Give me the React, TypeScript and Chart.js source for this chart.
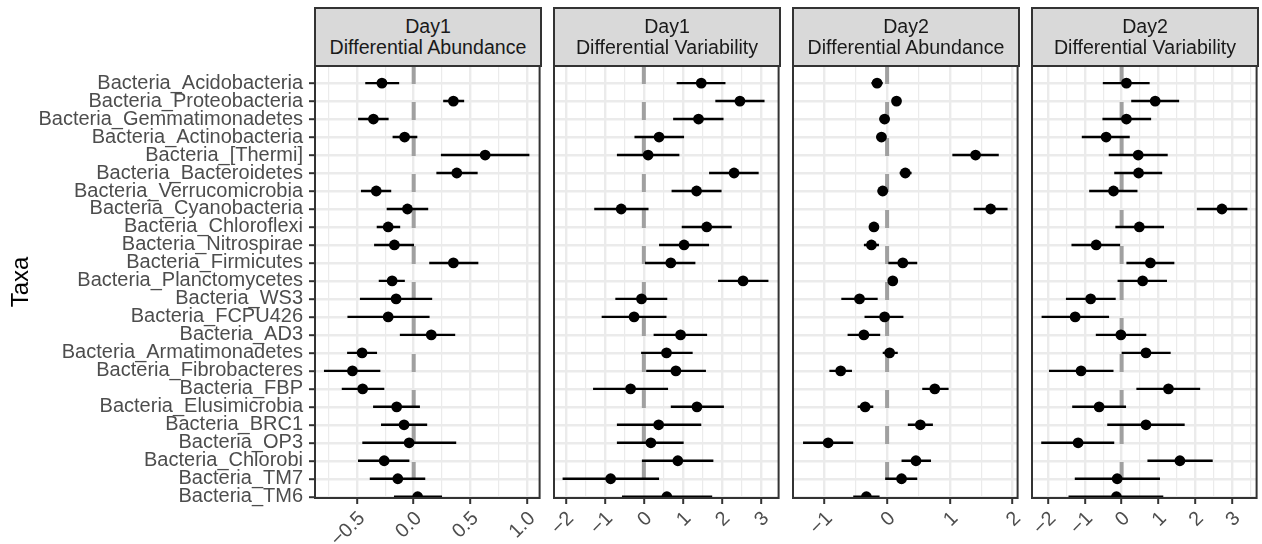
import React, { useEffect, useRef } from 'react';
import { Chart, registerables } from 'chart.js';

Chart.register(...registerables);

// ---------- data ----------
const taxa = [
  'Bacteria_Acidobacteria', 'Bacteria_Proteobacteria', 'Bacteria_Gemmatimonadetes', 'Bacteria_Actinobacteria',
  'Bacteria_[Thermi]', 'Bacteria_Bacteroidetes', 'Bacteria_Verrucomicrobia', 'Bacteria_Cyanobacteria',
  'Bacteria_Chloroflexi', 'Bacteria_Nitrospirae', 'Bacteria_Firmicutes', 'Bacteria_Planctomycetes',
  'Bacteria_WS3', 'Bacteria_FCPU426', 'Bacteria_AD3', 'Bacteria_Armatimonadetes',
  'Bacteria_Fibrobacteres', 'Bacteria_FBP', 'Bacteria_Elusimicrobia', 'Bacteria_BRC1',
  'Bacteria_OP3', 'Bacteria_Chlorobi', 'Bacteria_TM7', 'Bacteria_TM6',
];

const panelTitles = [
  ['Day1', 'Differential Abundance'],
  ['Day1', 'Differential Variability'],
  ['Day2', 'Differential Abundance'],
  ['Day2', 'Differential Variability'],
];

// Day1 Differential Abundance
const d1AbEst = [-0.28, 0.35, -0.355, -0.08, 0.63, 0.38, -0.33, -0.055, -0.225, -0.17, 0.35, -0.19, -0.155, -0.225, 0.155, -0.455, -0.54, -0.45, -0.15, -0.085, -0.04, -0.26, -0.14, 0.035];
const d1AbLo = [-0.427, 0.26, -0.49, -0.186, 0.24, 0.2, -0.465, -0.238, -0.326, -0.349, 0.137, -0.308, -0.474, -0.584, -0.122, -0.587, -0.791, -0.634, -0.358, -0.288, -0.453, -0.491, -0.387, -0.174];
const d1AbHi = [-0.128, 0.445, -0.221, 0.032, 1.02, 0.564, -0.198, 0.128, -0.119, 0.003, 0.57, -0.078, 0.163, 0.14, 0.366, -0.323, -0.294, -0.259, 0.055, 0.119, 0.375, -0.038, 0.102, 0.25];

// Day1 Differential Variability
const d1VarEst = [1.47, 2.46, 1.4, 0.39, 0.11, 2.31, 1.35, -0.58, 1.61, 1.03, 0.69, 2.54, -0.06, -0.25, 0.94, 0.58, 0.82, -0.34, 1.36, 0.38, 0.18, 0.87, -0.85, 0.59];
const d1VarLo = [0.84, 1.83, 0.75, -0.24, -0.69, 1.67, 0.71, -1.27, 0.97, 0.39, 0.03, 1.9, -0.73, -1.08, 0.25, -0.07, 0.06, -1.3, 0.69, -0.69, -0.69, -0.05, -2.08, -0.56];
const d1VarHi = [2.09, 3.09, 2.04, 1.03, 0.91, 2.94, 1.99, 0.12, 2.25, 1.67, 1.32, 3.19, 0.6, 0.58, 1.62, 1.25, 1.59, 0.62, 2.05, 1.47, 1.02, 1.78, 0.39, 1.75];

// Day2 Differential Abundance
const d2AbEst = [-0.16, 0.15, -0.04, -0.09, 1.41, 0.29, -0.07, 1.65, -0.21, -0.25, 0.25, 0.09, -0.44, -0.04, -0.37, 0.04, -0.74, 0.76, -0.35, 0.53, -0.94, 0.46, 0.23, -0.33];
const d2AbLo = [-0.25, 0.09, -0.12, -0.17, 1.04, 0.2, -0.15, 1.38, -0.28, -0.37, 0.02, 0.03, -0.73, -0.36, -0.63, -0.07, -0.92, 0.56, -0.47, 0.33, -1.34, 0.23, -0.03, -0.54];
const d2AbHi = [-0.07, 0.22, 0.03, -0.02, 1.78, 0.39, 0.005, 1.92, -0.14, -0.13, 0.48, 0.16, -0.15, 0.26, -0.11, 0.17, -0.56, 0.98, -0.22, 0.73, -0.54, 0.7, 0.48, -0.12];

// Day2 Differential Variability
const d2VarEst = [0.13, 0.91, 0.13, -0.42, 0.45, 0.46, -0.22, 2.72, 0.48, -0.69, 0.78, 0.57, -0.84, -1.26, -0.02, 0.66, -1.1, 1.27, -0.61, 0.66, -1.18, 1.58, -0.12, -0.14];
const d2VarLo = [-0.51, 0.26, -0.52, -1.08, -0.35, -0.2, -0.88, 2.04, -0.17, -1.36, 0.13, -0.11, -1.51, -2.17, -0.7, 0.0, -1.97, 0.4, -1.34, -0.39, -2.18, 0.7, -1.27, -1.44];
const d2VarHi = [0.76, 1.56, 0.8, 0.22, 1.25, 1.1, 0.43, 3.41, 1.15, -0.04, 1.43, 1.23, -0.16, -0.34, 0.67, 1.33, -0.22, 2.13, 0.12, 1.71, -0.2, 2.47, 1.04, 1.13];

// tick values / labels
const p1Major = [-0.5, 0, 0.5, 1.0];
const p1Labels = ['\u22120.5', '0.0', '0.5', '1.0'];
const p1Minor = [-0.75, -0.25, 0.25, 0.75];
const p2Major = [-2, -1, 0, 1, 2, 3];
const p2Labels = ['\u22122', '\u22121', '0', '1', '2', '3'];
const p2Minor = [-1.5, -0.5, 0.5, 1.5, 2.5];
const p3Major = [-1, 0, 1, 2];
const p3Labels = ['\u22121', '0', '1', '2'];
const p3Minor = [-0.5, 0.5, 1.5];
const p4Major = [-2, -1, 0, 1, 2, 3];
const p4Labels = ['\u22122', '\u22121', '0', '1', '2', '3'];
const p4Minor = [-1.5, -0.5, 0.5, 1.5, 2.5, 3.5];

// axis limits
const xLimits = [
  [-0.87, 1.11],
  [-2.30, 3.45],
  [-1.50, 2.08],
  [-2.43, 3.66],
];
const yLimits = [-0.95, 23.07];
const zeroLine = 0;

const panels = [
  { est: d1AbEst, lo: d1AbLo, hi: d1AbHi, major: p1Major, labels: p1Labels, minor: p1Minor },
  { est: d1VarEst, lo: d1VarLo, hi: d1VarHi, major: p2Major, labels: p2Labels, minor: p2Minor },
  { est: d2AbEst, lo: d2AbLo, hi: d2AbHi, major: p3Major, labels: p3Labels, minor: p3Minor },
  { est: d2VarEst, lo: d2VarLo, hi: d2VarHi, major: p4Major, labels: p4Labels, minor: p4Minor },
];

// ---------- layout ----------
const FONT = "'Liberation Sans', Arial, Helvetica, sans-serif";
const PANEL_LEFT = [315, 554, 793, 1032];
const PANEL_W = 226;
const PANEL_TOP = 66;
const PANEL_BOTTOM = 498;
const CANVAS_TOP = 56;
const CANVAS_H = 544 - CANVAS_TOP;

const borderPlugin = {
  id: 'panelBorder',
  afterDraw(chart: any) {
    const { ctx, chartArea: a } = chart;
    ctx.save();
    ctx.strokeStyle = '#333333';
    ctx.lineWidth = 2;
    ctx.strokeRect(a.left, a.top, a.right - a.left, a.bottom - a.top);
    ctx.restore();
  },
};

const isIn = (arr: number[], v: number) => arr.some((m) => Math.abs(m - v) < 1e-9);

function Panel({ k }: { k: number }) {
  const ref = useRef<HTMLCanvasElement | null>(null);
  const canvasLeft = k === 0 ? 0 : PANEL_LEFT[k] - 26;
  const canvasW = PANEL_LEFT[k] + PANEL_W + 4 - canvasLeft;
  const yAxisW = PANEL_LEFT[k] - canvasLeft;

  useEffect(() => {
    const p = panels[k];
    const datasets: any[] = [];
    datasets.push({
      type: 'scatter',
      data: p.est.map((v, i) => ({ x: v, y: i })),
      pointRadius: 5.4,
      pointHoverRadius: 5.4,
      pointBackgroundColor: '#000000',
      pointBorderWidth: 0,
      order: 0,
    });
    p.lo.forEach((lo, i) => {
      datasets.push({
        type: 'line',
        data: [{ x: lo, y: i }, { x: p.hi[i], y: i }],
        borderColor: '#000000',
        borderWidth: 2.4,
        pointRadius: 0,
        pointHoverRadius: 0,
        order: 1,
      });
    });
    datasets.push({
      type: 'line',
      data: [{ x: zeroLine, y: yLimits[0] }, { x: zeroLine, y: yLimits[1] }],
      borderColor: '#A0A0A0',
      borderWidth: 4,
      borderDash: [18, 18],
      borderCapStyle: 'butt',
      pointRadius: 0,
      pointHoverRadius: 0,
      order: 2,
    });

    const allTicks = [...p.major, ...p.minor].sort((a, b) => a - b);

    const chart = new Chart(ref.current as HTMLCanvasElement, {
      type: 'scatter',
      data: { datasets },
      plugins: [borderPlugin],
      options: {
        animation: false,
        responsive: false,
        events: [],
        layout: { padding: { top: PANEL_TOP - CANVAS_TOP, right: canvasW - (PANEL_LEFT[k] + PANEL_W - canvasLeft), left: 0, bottom: 0 } },
        plugins: { legend: { display: false }, tooltip: { enabled: false }, title: { display: false } },
        scales: {
          x: {
            type: 'linear',
            position: 'bottom',
            min: xLimits[k][0],
            max: xLimits[k][1],
            afterBuildTicks: (s: any) => { s.ticks = allTicks.map((v) => ({ value: v })); },
            afterFit: (s: any) => { s.height = CANVAS_H - (PANEL_BOTTOM - CANVAS_TOP); s.paddingLeft = 0; s.paddingRight = 0; },
            ticks: {
              autoSkip: false,
              minRotation: 45,
              maxRotation: 45,
              color: '#4D4D4D',
              font: { family: FONT, size: 19.8 },
              padding: 3,
              labelOffset: 5,
              callback: (v: any) => {
                const idx = p.major.findIndex((m) => Math.abs(m - Number(v)) < 1e-9);
                return idx >= 0 ? p.labels[idx] : '';
              },
            },
            grid: {
              color: '#EBEBEB',
              lineWidth: (c: any) => (c.tick && isIn(p.major, c.tick.value) ? 2.4 : 1.2),
              tickColor: (c: any) => (c.tick && isIn(p.major, c.tick.value) ? '#333333' : 'rgba(0,0,0,0)'),
              tickLength: 6,
              tickWidth: 2,
              drawTicks: true,
            },
            border: { display: false },
          } as any,
          y: {
            type: 'linear',
            reverse: true,
            min: yLimits[0],
            max: yLimits[1],
            afterBuildTicks: (s: any) => { s.ticks = taxa.map((_, i) => ({ value: i })); },
            afterFit: (s: any) => { s.width = yAxisW; s.paddingTop = 0; s.paddingBottom = 0; },
            ticks: {
              display: k === 0,
              autoSkip: false,
              color: '#4D4D4D',
              font: { family: FONT, size: 20 },
              padding: 6,
              callback: (v: any) => taxa[Number(v)] ?? '',
            },
            grid: {
              color: '#EBEBEB',
              lineWidth: 2.4,
              tickColor: '#333333',
              tickLength: 6,
              tickWidth: 2,
              drawTicks: k === 0,
            },
            border: { display: false },
            title: k === 0
              ? { display: true, text: 'Taxa', color: '#000000', font: { family: FONT, size: 24 }, padding: { top: 7, bottom: 0 } }
              : { display: false },
          } as any,
        },
      } as any,
    });
    return () => chart.destroy();
  }, [k]);

  return (
    <canvas
      ref={ref}
      width={canvasW}
      height={CANVAS_H}
      style={{ position: 'absolute', left: canvasLeft, top: CANVAS_TOP, width: canvasW, height: CANVAS_H }}
    />
  );
}

function Strip({ k }: { k: number }) {
  return (
    <div
      style={{
        position: 'absolute',
        left: PANEL_LEFT[k] - 1,
        top: 7,
        width: PANEL_W + 2,
        height: PANEL_TOP + 1 - 7,
        boxSizing: 'border-box',
        border: '2px solid #333333',
        background: '#D9D9D9',
        display: 'flex',
        flexDirection: 'column',
        justifyContent: 'center',
        alignItems: 'center',
        fontFamily: FONT,
        fontSize: '19.6px',
        lineHeight: '21.5px',
        color: '#1A1A1A',
        textAlign: 'center',
        whiteSpace: 'nowrap',
      }}
    >
      <div>{panelTitles[k][0]}</div>
      <div>{panelTitles[k][1]}</div>
    </div>
  );
}

export default function App() {
  return (
    <div style={{ position: 'absolute', left: 0, top: 0, width: 1262, height: 544, background: '#FFFFFF', overflow: 'hidden' }}>
      {[0, 1, 2, 3].map((k) => (
        <Panel key={'p' + k} k={k} />
      ))}
      {[0, 1, 2, 3].map((k) => (
        <Strip key={'s' + k} k={k} />
      ))}
    </div>
  );
}
